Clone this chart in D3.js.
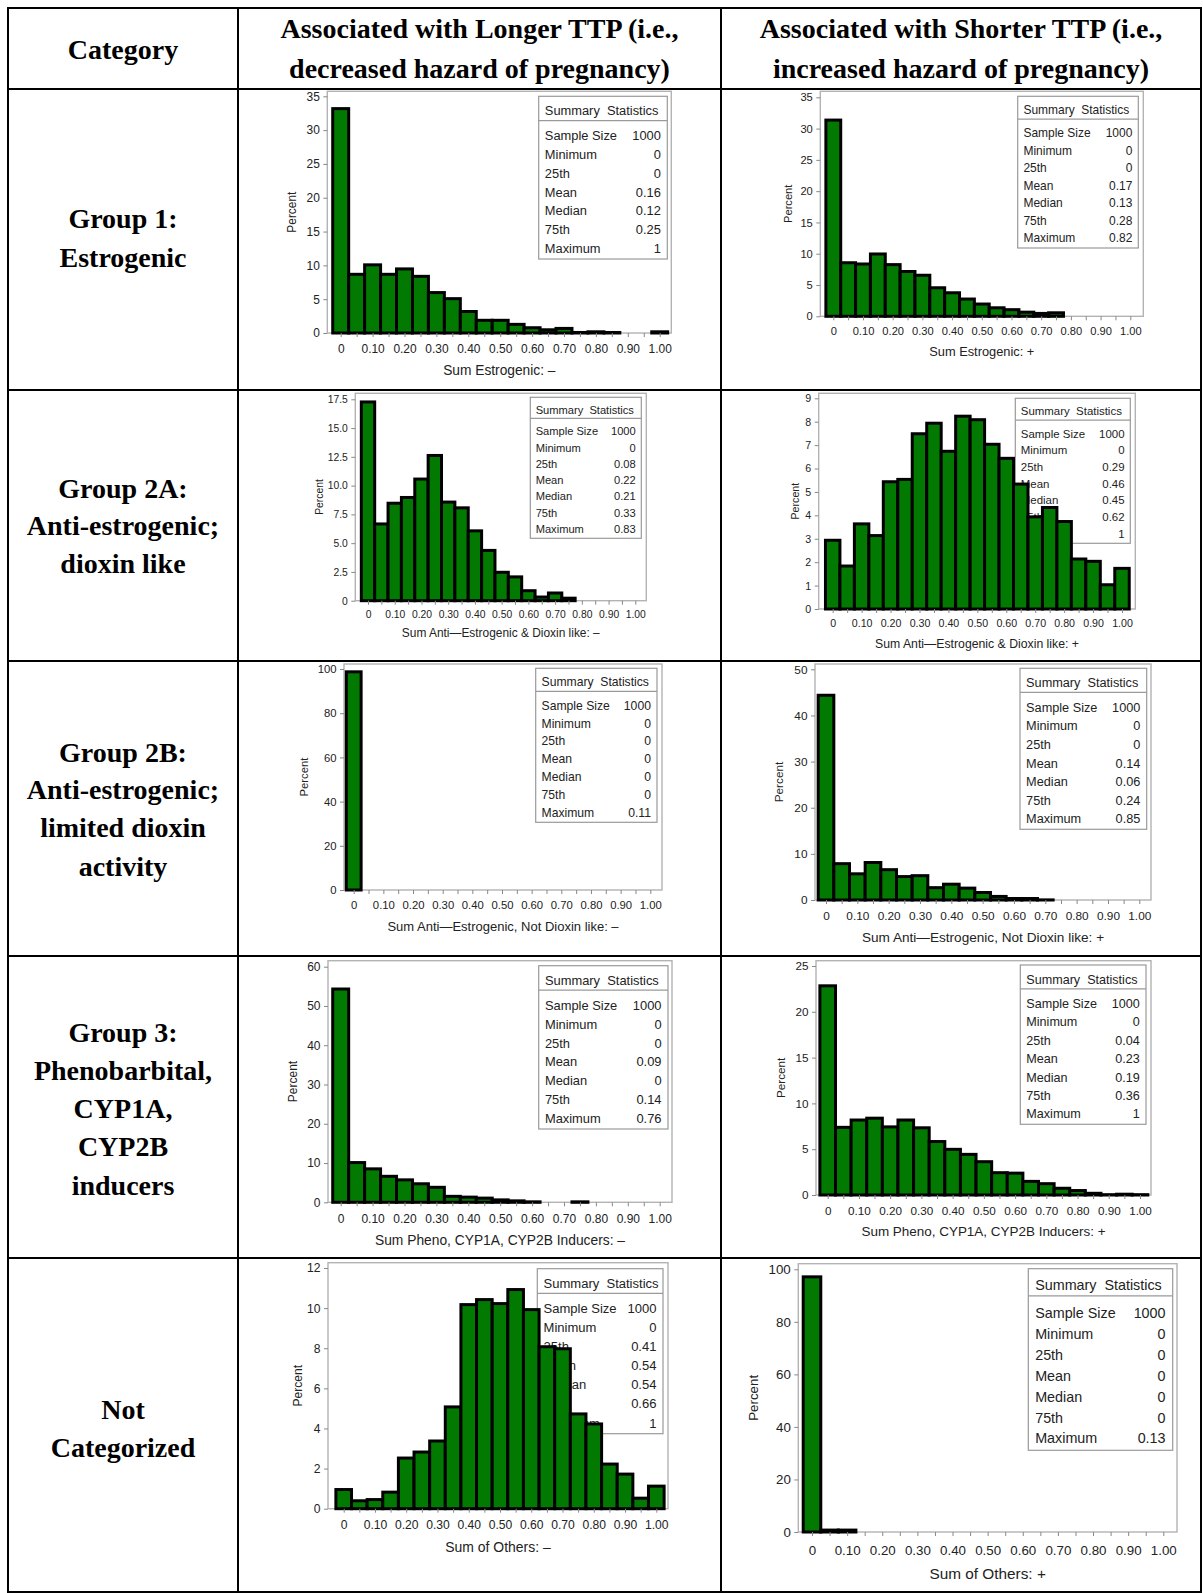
<!DOCTYPE html>
<html><head><meta charset="utf-8">
<script src="https://cdn.jsdelivr.net/npm/d3@7"></script>
<style>body{margin:0;background:#fff}svg{display:block}</style>
</head><body>
<svg id="c" width="1203" height="1593"></svg>
<script>
// ---------------- DATA ----------------
const binMids = [0,0.05,0.10,0.15,0.20,0.25,0.30,0.35,0.40,0.45,0.50,0.55,0.60,0.65,0.70,0.75,0.80,0.85,0.90,0.95,1.00];
const columnHeaders = [["Category"],["Associated with Longer TTP (i.e.,","decreased hazard of pregnancy)"],["Associated with Shorter TTP (i.e.,","increased hazard of pregnancy)"]];
const categories = [["Group 1:","Estrogenic"],["Group 2A:","Anti-estrogenic;","dioxin like"],["Group 2B:","Anti-estrogenic;","limited dioxin","activity"],["Group 3:","Phenobarbital,","CYP1A,","CYP2B","inducers"],["Not","Categorized"]];
const statNames = ["Sample Size","Minimum","25th","Mean","Median","75th","Maximum"];

// percent per bin (bins centred on binMids)
const estrogenicNeg   = [33.4,8.9,10.3,8.9,9.7,8.6,6.2,5.3,3.4,2.1,2.1,1.5,1.0,0.7,0.9,0.3,0.4,0.3,0,0,0.4];
const estrogenicPos   = [31.6,8.8,8.6,10.2,8.5,7.4,6.8,4.8,4.0,3.0,2.2,1.6,1.3,0.9,0.7,0.8,0.2,0,0,0,0];
const antiDioxinNeg   = [17.4,6.8,8.6,9.1,10.7,12.75,8.7,8.2,6.2,4.5,2.6,2.2,1.0,0.45,0.8,0.35,0,0.1,0,0,0];
const antiDioxinPos   = [3.0,1.9,3.7,3.2,5.5,5.6,7.55,8.0,6.8,8.3,8.15,7.1,6.5,5.4,4.0,4.4,3.8,2.2,2.1,1.1,1.8];
const antiNotDioxNeg  = [99.4,0.2,0.5,0,0,0,0,0,0,0,0,0,0,0,0,0,0,0,0,0,0];
const antiNotDioxPos  = [44.7,8.2,6.0,8.45,6.9,5.4,5.6,3.0,3.75,2.9,1.95,1.1,0.65,0.65,0.35,0.3,0,0.3,0,0,0];
const phenoNeg        = [54.7,10.5,8.9,7.0,6.1,5.1,4.2,1.9,1.7,1.45,1.0,0.75,0.5,0,0,0.5,0,0,0,0,0];
const phenoPos        = [23.0,7.55,8.35,8.55,7.6,8.35,7.5,6.0,5.15,4.6,3.8,2.6,2.55,1.65,1.4,0.9,0.65,0.35,0.2,0.25,0.2];
const othersNeg       = [1.03,0.47,0.53,0.9,2.6,2.9,3.45,5.15,10.25,10.5,10.3,11.0,10.0,8.15,8.05,4.8,4.3,2.3,1.8,0.6,1.2];
const othersPos       = [97.7,1.3,1.3,0.4,0,0,0,0,0,0,0,0,0,0,0,0,0,0,0,0,0];

// summary statistics (Sample Size, Min, 25th, Mean, Median, 75th, Max)
const statsEstrogenicNeg  = ["1000","0","0","0.16","0.12","0.25","1"];
const statsEstrogenicPos  = ["1000","0","0","0.17","0.13","0.28","0.82"];
const statsAntiDioxinNeg  = ["1000","0","0.08","0.22","0.21","0.33","0.83"];
const statsAntiDioxinPos  = ["1000","0","0.29","0.46","0.45","0.62","1"];
const statsAntiNotDioxNeg = ["1000","0","0","0","0","0","0.11"];
const statsAntiNotDioxPos = ["1000","0","0","0.14","0.06","0.24","0.85"];
const statsPhenoNeg       = ["1000","0","0","0.09","0","0.14","0.76"];
const statsPhenoPos       = ["1000","0","0.04","0.23","0.19","0.36","1"];
const statsOthersNeg      = ["1000","0","0.41","0.54","0.54","0.66","1"];
const statsOthersPos      = ["1000","0","0","0","0","0","0.13"];

// y tick labels
const yTicks35  = [0,5,10,15,20,25,30,35];
const yTicks175 = [0,2.5,5.0,7.5,10.0,12.5,15.0,17.5];
const yTicks9   = [0,1,2,3,4,5,6,7,8,9];
const yTicks100 = [0,20,40,60,80,100];
const yTicks50  = [0,10,20,30,40,50];
const yTicks60  = [0,10,20,30,40,50,60];
const yTicks25  = [0,5,10,15,20,25];
const yTicks12  = [0,2,4,6,8,10,12];
const xTickLabels = [0,0.10,0.20,0.30,0.40,0.50,0.60,0.70,0.80,0.90,1.00];

const axisLabels = ["Sum Estrogenic: \u2013","Sum Estrogenic: +",
 "Sum Anti\u2014Estrogenic & Dioxin like: \u2013","Sum Anti\u2014Estrogenic & Dioxin like: +",
 "Sum Anti\u2014Estrogenic, Not Dioxin like: \u2013","Sum Anti\u2014Estrogenic, Not Dioxin like: +",
 "Sum Pheno, CYP1A, CYP2B Inducers: \u2013","Sum Pheno, CYP1A, CYP2B Inducers: +",
 "Sum of Others: \u2013","Sum of Others: +"];

const panels = [
 {bins:estrogenicNeg, stats:statsEstrogenicNeg, yt:yTicks35, dec:0},
 {bins:estrogenicPos, stats:statsEstrogenicPos, yt:yTicks35, dec:0},
 {bins:antiDioxinNeg, stats:statsAntiDioxinNeg, yt:yTicks175, dec:1},
 {bins:antiDioxinPos, stats:statsAntiDioxinPos, yt:yTicks9, dec:0},
 {bins:antiNotDioxNeg, stats:statsAntiNotDioxNeg, yt:yTicks100, dec:0},
 {bins:antiNotDioxPos, stats:statsAntiNotDioxPos, yt:yTicks50, dec:0},
 {bins:phenoNeg, stats:statsPhenoNeg, yt:yTicks60, dec:0},
 {bins:phenoPos, stats:statsPhenoPos, yt:yTicks25, dec:0},
 {bins:othersNeg, stats:statsOthersNeg, yt:yTicks12, dec:0},
 {bins:othersPos, stats:statsOthersPos, yt:yTicks100, dec:0}
];

// ---------------- LAYOUT ----------------
const colX = [8,238,721,1201];
const rowY = [8,89,390,661,956,1258,1592];
const headerLines = [[49],[28,68],[28,68]];
const categoryLines = [[218,257],[488,525,563],[752,789,827,866],[1032,1070,1108,1146,1185],[1409,1447]];
const layout = [
 {fx0:327.3,fx1:671.3,fy0:91.3,y0:333,x0:340.7,x1:659.7,yTop:96.3,bx0:538.7,by0:96.3,bx1:667.3,by1:259,labY:369.7,pctX:292.3},
 {fx0:820.3,fx1:1143.3,fy0:91.3,y0:316.3,x0:833.3,x1:1130.3,yTop:97.3,bx0:1017.7,by0:96.3,bx1:1138.3,by1:248,labY:351.3,pctX:787.7},
 {fx0:355.3,fx1:646.3,fy0:393.3,y0:600.7,x0:368,x1:635.3,yTop:399.3,bx0:530.3,by0:397.3,bx1:641.3,by1:538.3,labY:633.3,pctX:319},
 {fx0:818.7,fx1:1135.3,fy0:393.3,y0:609,x0:832.7,x1:1122,yTop:398.3,bx0:1015.3,by0:398.3,bx1:1130.3,by1:543.3,labY:643.3,pctX:795},
 {fx0:344,fx1:662,fy0:664,y0:890,x0:353.7,x1:650.3,yTop:669,bx0:535.7,by0:668.3,bx1:657,by1:822.3,labY:926.7,pctX:303.7},
 {fx0:815,fx1:1151,fy0:664,y0:900,x0:826,x1:1139.3,yTop:669.3,bx0:1020,by0:668.3,bx1:1146.7,by1:829.3,labY:937.7,pctX:779.3},
 {fx0:328,fx1:672,fy0:960.7,y0:1202.3,x0:340.7,x1:659.7,yTop:966.7,bx0:538.7,by0:965.7,bx1:668,by1:1129,labY:1240,pctX:292.3},
 {fx0:816,fx1:1151,fy0:960.7,y0:1195,x0:827.7,x1:1140,yTop:966,bx0:1020.3,by0:965,bx1:1146,by1:1124.3,labY:1231.7,pctX:781},
 {fx0:328,fx1:668,fy0:1262.7,y0:1508.7,x0:343.7,x1:656.3,yTop:1268,bx0:537.3,by0:1268.7,bx1:663,by1:1433.7,labY:1547,pctX:298},
 {fx0:798.3,fx1:1177,fy0:1263.7,y0:1532,x0:812,x1:1163.3,yTop:1269.3,bx0:1028.3,by0:1268.7,bx1:1172.7,by1:1450.3,labY:1573.7,pctX:753.7}
];

const GREEN = "#027a02";
const TXT = "#222";
const SANS = "'Liberation Sans', Arial, sans-serif";
const SERIF = "'Liberation Serif', 'Times New Roman', serif";

const svg = d3.select("#c");
svg.append("rect").attr("width",1203).attr("height",1593).attr("fill","#fff");

// ---------------- PANELS ----------------
function drawPanel(L, P, label){
  const g = svg.append("g");
  const yMax = P.yt[P.yt.length-1];
  const x = d3.scaleLinear().domain([0,1]).range([L.x0,L.x1]);
  const y = d3.scaleLinear().domain([0,yMax]).range([L.y0,L.yTop]);
  const bh = L.by1-L.by0, bw = L.bx1-L.bx0;
  const fs = 0.079*bh, tfs = 0.93*fs;

  g.append("rect").attr("x",L.fx0).attr("y",L.fy0).attr("width",L.fx1-L.fx0).attr("height",L.y0-L.fy0)
   .attr("fill","none").attr("stroke","#b3b3b3").attr("stroke-width",1.4);

  const box = g.append("g");
  box.append("rect").attr("x",L.bx0).attr("y",L.by0).attr("width",bw).attr("height",bh)
   .attr("fill","#fff").attr("stroke","#9a9a9a").attr("stroke-width",1.2);
  box.append("line").attr("x1",L.bx0).attr("x2",L.bx1).attr("y1",L.by0+0.15*bh).attr("y2",L.by0+0.15*bh)
   .attr("stroke","#9a9a9a").attr("stroke-width",1.2);
  box.append("text").attr("x",L.bx0+0.48*fs).attr("y",L.by0+0.09*bh).attr("dy","0.35em")
   .attr("font-size",fs).attr("font-family",SANS).attr("fill",TXT).text("Summary  Statistics").style("white-space","pre");
  statNames.forEach((n,i)=>{
    const yy = L.by0+(0.243+0.1153*i)*bh;
    box.append("text").attr("x",L.bx0+0.48*fs).attr("y",yy).attr("dy","0.35em")
      .attr("font-size",fs).attr("font-family",SANS).attr("fill",TXT).text(n);
    box.append("text").attr("x",L.bx1-0.5*fs).attr("y",yy).attr("dy","0.35em").attr("text-anchor","end")
      .attr("font-size",fs).attr("font-family",SANS).attr("fill",TXT).text(P.stats[i]);
  });

  const w = x(0.05)-x(0);
  const sw = 3;
  const data = binMids.map((m,i)=>({m, v:P.bins[i]})).filter(d=>d.v>0);
  g.selectAll("rect.bar").data(data).join("rect").attr("class","bar")
   .attr("x",d=>x(d.m)-w/2).attr("width",w)
   .attr("y",d=>Math.min(y(d.v)+sw/2, L.y0))
   .attr("height",d=>Math.max(0, L.y0-(y(d.v)+sw/2)))
   .attr("fill",GREEN).attr("stroke","#000").attr("stroke-width",sw);

  const ya = g.append("g").attr("transform",`translate(${L.fx0},0)`)
   .call(d3.axisLeft(y).tickValues(P.yt).tickSize(4).tickPadding(3.5)
     .tickFormat(d=> P.dec ? d3.format(".1f")(d).replace(/^0\.0$/,"0") : d3.format("d")(d)));
  ya.select(".domain").remove();
  ya.selectAll("line").attr("stroke","#888");
  ya.selectAll("text").attr("font-size",tfs).attr("font-family",SANS).attr("fill",TXT);

  const labelSet = new Set(xTickLabels.map(v=>v.toFixed(2)));
  const xa = g.append("g").attr("transform",`translate(0,${L.y0})`)
   .call(d3.axisBottom(x).tickValues(binMids).tickSize(4).tickPadding(Math.max(2,1.25*fs-4-0.36*tfs))
     .tickFormat(d=> labelSet.has(d.toFixed(2)) ? (d===0 ? "0" : d3.format(".2f")(d)) : ""));
  xa.select(".domain").remove();
  xa.selectAll("line").attr("stroke","#888");
  xa.selectAll("text").attr("font-size",tfs).attr("font-family",SANS).attr("fill",TXT);

  g.append("text").attr("x",(L.fx0+L.fx1)/2).attr("y",L.labY).attr("dy","0.35em").attr("text-anchor","middle")
   .attr("font-size",1.07*fs).attr("font-family",SANS).attr("fill",TXT).text(label);
  const cy = (L.fy0+L.y0)/2;
  g.append("text").attr("transform",`translate(${L.pctX},${cy}) rotate(-90)`).attr("dy","0.35em")
   .attr("text-anchor","middle").attr("font-size",0.93*fs).attr("font-family",SANS).attr("fill",TXT).text("Percent");
}

panels.forEach((P,i)=>drawPanel(layout[i],P,axisLabels[i]));

// ---------------- TABLE ----------------
const grid = svg.append("g").attr("stroke","#000").attr("stroke-width",2);
colX.forEach(cx=>grid.append("line").attr("x1",cx).attr("x2",cx).attr("y1",rowY[0]).attr("y2",rowY[rowY.length-1]));
rowY.forEach(ry=>grid.append("line").attr("x1",colX[0]-1).attr("x2",colX[3]+1).attr("y1",ry).attr("y2",ry));

columnHeaders.forEach((lines,c)=>{
  const cx = (colX[c]+colX[c+1])/2;
  lines.forEach((t,k)=>svg.append("text").attr("x",cx).attr("y",headerLines[c][k]).attr("dy","0.35em")
    .attr("text-anchor","middle").attr("font-family",SERIF).attr("font-weight","bold").attr("font-size",28)
    .attr("fill","#000").text(t));
});
categories.forEach((lines,r)=>{
  const cx = (colX[0]+colX[1])/2;
  lines.forEach((t,k)=>svg.append("text").attr("x",cx).attr("y",categoryLines[r][k]).attr("dy","0.35em")
    .attr("text-anchor","middle").attr("font-family",SERIF).attr("font-weight","bold").attr("font-size",28)
    .attr("fill","#000").text(t));
});
</script>
</body></html>
